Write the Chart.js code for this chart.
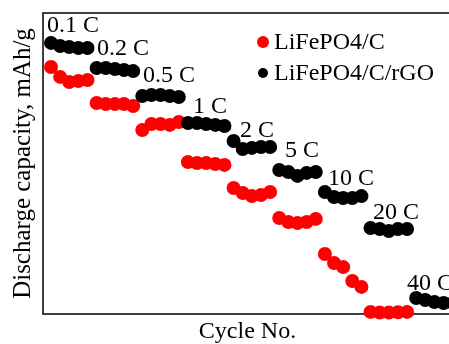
<!DOCTYPE html>
<html>
<head>
<meta charset="utf-8">
<script src="https://cdn.jsdelivr.net/npm/chart.js@4"></script>
<style>
html,body{margin:0;padding:0;background:#fff;overflow:hidden;width:449px;height:344px;}
#wrap{position:absolute;left:0;top:0;width:460px;height:344px;}
</style>
</head>
<body>
<div id="wrap"><canvas id="c" width="460" height="344"></canvas></div>
<script>
// ---- data ----
const cycles = [1,2,3,4,5,6,7,8,9,10,11,12,13,14,15,16,17,18,19,20,21,22,23,24,25,26,27,28,29,30,31,32,33,34,35,36,37,38,39,40,41,42,43,44,45];
const rateLabels = ["0.1 C","0.2 C","0.5 C","1 C","2 C","5 C","10 C","20 C","40 C"];
// LiFePO4/C (no points at 40 C)
const lfpC = [139.5,133.9,131.0,131.6,132.2,
              119.2,118.6,118.6,118.6,117.5,
              103.9,107.3,107.3,106.8,108.4,
              85.8,85.3,85.3,84.7,84.2,
              71.2,68.3,66.6,67.2,68.9,
              54.2,52.0,51.4,52.0,53.7,
              33.9,28.8,26.5,18.6,15.3,
              1.2,0.8,0.8,1.0,1.2];
// LiFePO4/C/rGO
const lfpCrGO = [153.1,151.4,150.8,150.2,150.2,
                 138.9,138.9,138.4,137.8,137.2,
                 123.1,123.7,123.7,123.1,122.6,
                 107.9,107.9,107.3,106.8,106.2,
                 97.7,93.2,93.8,94.3,94.3,
                 81.3,80.2,78.0,79.7,80.2,
                 68.9,66.1,65.5,65.5,66.6,
                 48.6,48.0,46.9,48.0,48.0,
                 9.0,7.9,6.8,6.2,6.2];
// rate label anchors (cycle, capacity)
const rateLabelCycle = [0.56,6.04,11.08,16.55,21.70,26.63,31.34,36.27,39.99];
const rateLabelCap   = [159.3,146.3,131.0,113.5,100.0,88.7,72.9,53.7,13.6];
const seriesNames = ["LiFePO4/C","LiFePO4/C/rGO"];

const toXY = (vals) => vals.map((v,i)=>({x:cycles[i], y:v}));
const SERIF = '"Liberation Serif","Times New Roman",serif';

const framePlugin = {
  id:'frame',
  beforeDatasetsDraw(chart){
    const {ctx, chartArea:a} = chart;
    ctx.save();
    ctx.strokeStyle='#000'; ctx.lineWidth=1.5;
    ctx.strokeRect(a.left, a.top, a.right-a.left, a.bottom-a.top);
    ctx.restore();
  }
};
const annotPlugin = {
  id:'annot',
  afterDatasetsDraw(chart){
    const {ctx, scales:{x,y}} = chart;
    ctx.save();
    ctx.fillStyle='#000';
    ctx.font='24px '+SERIF;
    ctx.textAlign='left'; ctx.textBaseline='alphabetic';
    rateLabels.forEach((t,i)=>{
      ctx.fillText(t, x.getPixelForValue(rateLabelCycle[i]), y.getPixelForValue(rateLabelCap[i]));
    });
    // legend
    const items=[{c:'#ff0000',r:6,y:42},{c:'#000000',r:5,y:73}];
    items.forEach((it,i)=>{
      ctx.fillStyle=it.c;
      ctx.beginPath(); ctx.arc(263,it.y,it.r,0,Math.PI*2); ctx.fill();
      ctx.fillStyle='#000';
      ctx.textBaseline='middle';
      ctx.fillText(seriesNames[i], 274, it.y+1);
    });
    ctx.restore();
  }
};

new Chart(document.getElementById('c'), {
  type:'scatter',
  data:{datasets:[
    {label:seriesNames[0], data:toXY(lfpC), backgroundColor:'#ff0000', borderColor:'#ff0000',
     pointRadius:7, pointBorderWidth:0, clip:false, order:2},
    {label:seriesNames[1], data:toXY(lfpCrGO), backgroundColor:'#000000', borderColor:'#000000',
     pointRadius:7, pointBorderWidth:0, clip:false, order:1}
  ]},
  options:{
    responsive:false, animation:false, devicePixelRatio:1,
    layout:{padding:{left:0, top:13, right:8, bottom:0}},
    plugins:{legend:{display:false}, tooltip:{enabled:false}},
    scales:{
      x:{type:'linear', min:0.124, max:44.92,
         grid:{display:false, drawTicks:false}, border:{display:false},
         ticks:{display:false},
         title:{display:true, text:'Cycle No.', color:'#000',
                font:{family:SERIF, size:24, lineHeight:1.0}, padding:{top:6,bottom:0}}},
      y:{type:'linear', min:0, max:170,
         grid:{display:false, drawTicks:false}, border:{display:false},
         ticks:{display:false},
         title:{display:true, text:'Discharge capacity, mAh/g', color:'#000',
                font:{family:SERIF, size:25, lineHeight:1.0}, padding:{top:10.5,bottom:7.5}}}
    }
  },
  plugins:[framePlugin, annotPlugin]
});
</script>
</body>
</html>
